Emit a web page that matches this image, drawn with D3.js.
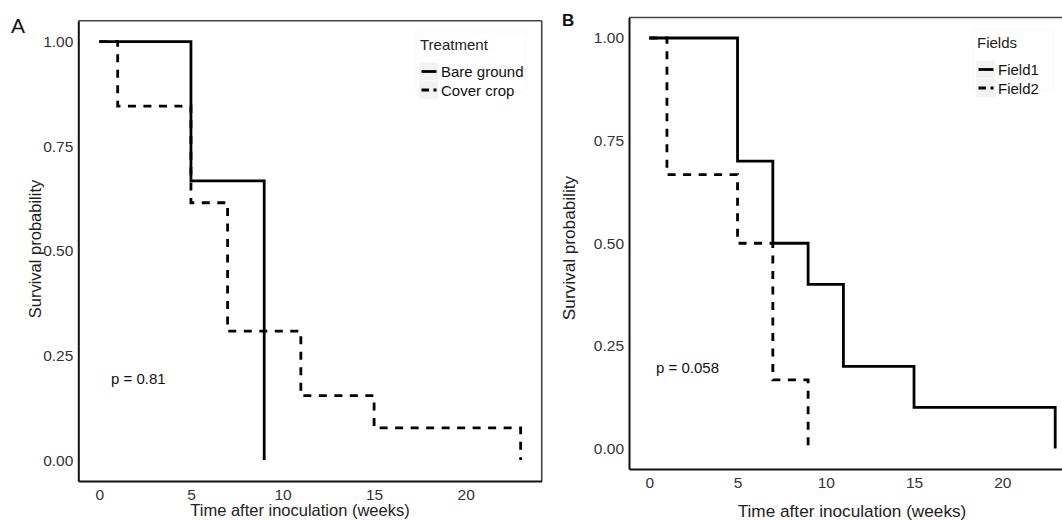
<!DOCTYPE html>
<html>
<head>
<meta charset="utf-8">
<script src="https://cdn.jsdelivr.net/npm/d3@7"></script>
<style>
  html, body { margin: 0; padding: 0; background: #fff; }
  svg { display: block; font-family: "Liberation Sans", Arial, sans-serif; }
</style>
</head>
<body>
<svg id="chart" width="1062" height="520"></svg>
<script>
// ===== DATA =====
// Panel A: treatment
const bareTime = [0, 5, 9];
const bareSurv = [1, 0.667, 0];
const coverTime = [0, 1, 5, 7, 11, 15, 23];
const coverSurv = [1, 0.846, 0.615, 0.308, 0.154, 0.077, 0];

// Panel B: fields
const field1Time = [0, 5, 7, 9, 11, 15, 23];
const field1Surv = [1, 0.7, 0.5, 0.4, 0.2, 0.1, 0];
const field2Time = [0, 1, 5, 7, 9];
const field2Surv = [1, 0.667, 0.5, 0.167, 0];

const xTicks = [0, 5, 10, 15, 20];
const yTicks = [0, 0.25, 0.5, 0.75, 1];

const svg = d3.select('#chart');

function drawPanel(opts) {
  const { left, right, top, bottom, series, legend, pval } = opts;

  // ggplot style expansion of 5%
  const x = d3.scaleLinear().domain([-1.15, 24.15]).range([left, right]);
  const y = d3.scaleLinear().domain([-0.05, 1.05]).range([bottom, top]);

  const g = svg.append('g');

  // frame: top/right lighter, left/bottom dark
  g.append('line').attr('x1', left).attr('x2', right).attr('y1', top).attr('y2', top)
    .attr('stroke', '#444').attr('stroke-width', 1.6);
  g.append('line').attr('x1', right).attr('x2', right).attr('y1', top).attr('y2', bottom)
    .attr('stroke', '#444').attr('stroke-width', 1.6);

  // curves
  const line = d3.line()
    .x(d => x(d[0]))
    .y(d => y(d[1]))
    .curve(d3.curveStepAfter);

  series.forEach(s => {
    const pts = s.time.map((t, i) => [t, s.surv[i]]);
    g.append('path')
      .attr('d', line(pts))
      .attr('fill', 'none')
      .attr('stroke', '#000')
      .attr('stroke-width', 2.8)
      .attr('stroke-dasharray', s.dashed ? '8,7.5' : null);
  });

  // axes (no tick marks)
  const xAxis = g.append('g').attr('transform', `translate(0,${bottom})`)
    .call(d3.axisBottom(x).tickValues(xTicks).tickSize(0).tickPadding(opts.xPad));
  const yAxis = g.append('g').attr('transform', `translate(${left},0)`)
    .call(d3.axisLeft(y).tickValues(yTicks).tickSize(0).tickPadding(5).tickFormat(d3.format('.2f')));

  [xAxis, yAxis].forEach(a => {
    a.select('.domain').attr('stroke', '#111').attr('stroke-width', 2);
    a.selectAll('text').attr('font-size', 15.5).attr('fill', '#333')
      .attr('font-family', '"Liberation Sans", Arial, sans-serif');
  });

  // axis titles
  g.append('text')
    .attr('x', opts.xTitle[0]).attr('y', opts.xTitle[1])
    .attr('text-anchor', 'middle').attr('font-size', opts.titleSize).attr('fill', '#222')
    .text('Time after inoculation (weeks)');
  g.append('text')
    .attr('transform', `translate(${opts.yTitle[0]},${opts.yTitle[1]}) rotate(-90)`)
    .attr('text-anchor', 'middle').attr('font-size', opts.titleSize).attr('fill', '#222')
    .text('Survival probability');

  // p value
  g.append('text')
    .attr('x', pval.x).attr('y', pval.y)
    .attr('font-size', 15).attr('fill', '#111')
    .text(pval.label);

  // legend
  const lg = g.append('g').attr('transform', `translate(${legend.x},${legend.y})`);
  lg.append('rect')
    .attr('x', -4).attr('y', -18).attr('width', legend.w).attr('height', 60)
    .attr('fill', '#fff').attr('stroke', '#f7f7f7');
  lg.append('text')
    .attr('x', 0).attr('y', 0)
    .attr('font-size', 15).attr('fill', '#222')
    .text(legend.title);
  series.forEach((s, i) => {
    const cy = 21.5 + i * 18.5;
    lg.append('rect')
      .attr('x', -1).attr('y', cy - 9).attr('width', 19).attr('height', 18)
      .attr('fill', '#f2f2f2');
    lg.append('line')
      .attr('x1', 1.5).attr('x2', 16.5).attr('y1', cy).attr('y2', cy)
      .attr('stroke', '#000').attr('stroke-width', 2.8)
      .attr('stroke-dasharray', s.dashed ? '7.5,4.5' : null);
    lg.append('text')
      .attr('x', 21).attr('y', cy + 5.5)
      .attr('font-size', 15).attr('fill', '#111')
      .text(s.name);
  });
}

drawPanel({
  left: 78.3, right: 541.7, top: 20.7, bottom: 481,
  xPad: 8,
  titleSize: 16.5,
  series: [
    { name: 'Bare ground', time: bareTime, surv: bareSurv, dashed: false },
    { name: 'Cover crop', time: coverTime, surv: coverSurv, dashed: true }
  ],
  legend: { title: 'Treatment', x: 420, y: 50, w: 110 },
  pval: { x: 111, y: 384, label: 'p = 0.81' },
  xTitle: [300, 516],
  yTitle: [41, 249]
});

drawPanel({
  left: 629, right: 1075.5, top: 17.5, bottom: 469,
  xPad: 8,
  titleSize: 17.2,
  series: [
    { name: 'Field1', time: field1Time, surv: field1Surv, dashed: false },
    { name: 'Field2', time: field2Time, surv: field2Surv, dashed: true }
  ],
  legend: { title: 'Fields', x: 977, y: 48, w: 80 },
  pval: { x: 656, y: 372.5, label: 'p = 0.058' },
  xTitle: [852, 517],
  yTitle: [575, 248]
});

// panel letters
svg.append('text').attr('x', 11).attr('y', 33)
  .attr('font-size', 21).attr('fill', '#111').text('A');
svg.append('text').attr('x', 562).attr('y', 25.5)
  .attr('font-size', 17).attr('font-weight', 'bold').attr('fill', '#111').text('B');
</script>
</body>
</html>
